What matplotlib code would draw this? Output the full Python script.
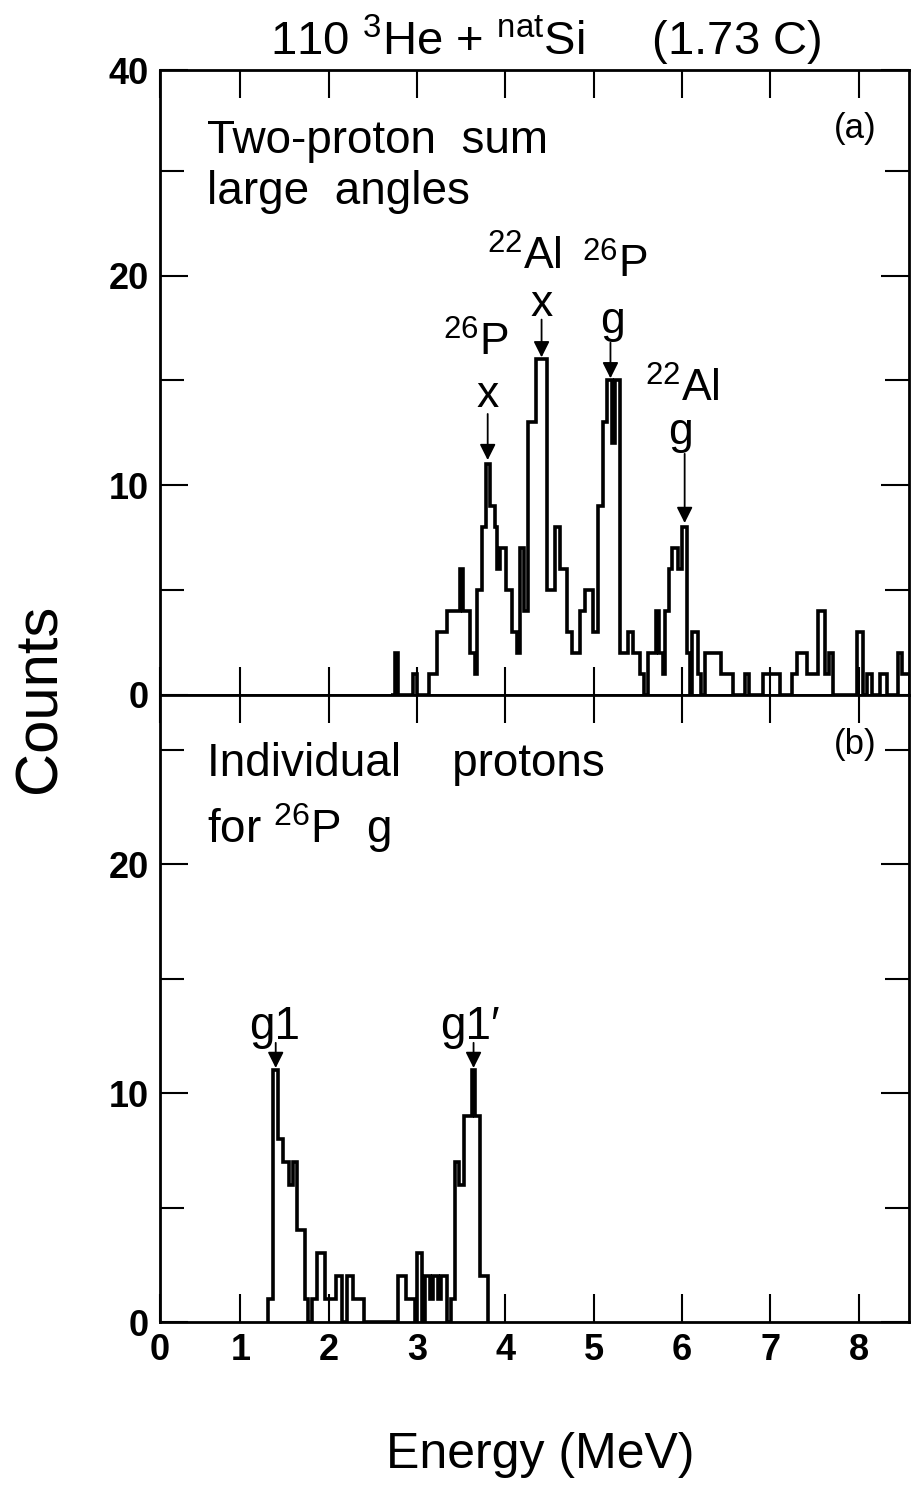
import numpy as np
import matplotlib.pyplot as plt
from matplotlib.ticker import MultipleLocator

plt.rcParams["font.family"] = ["Liberation Sans", "DejaVu Sans"]
plt.rcParams["mathtext.fontset"] = "custom"
plt.rcParams["mathtext.rm"] = "Liberation Sans"
plt.rcParams["mathtext.default"] = "regular"

# (a) two-proton sum energy spectrum, large angles
sum_edges = [2.70, 2.75, 2.79, 2.96, 3.00, 3.14, 3.23, 3.34, 3.49, 3.52,
             3.60, 3.66, 3.68, 3.74, 3.78, 3.83, 3.88, 3.91, 3.94, 4.01,
             4.08, 4.13, 4.17, 4.21, 4.26, 4.35, 4.47, 4.56, 4.62, 4.70,
             4.76, 4.85, 4.90, 4.99, 5.05, 5.10, 5.15, 5.21, 5.24, 5.30,
             5.39, 5.45, 5.53, 5.57, 5.61, 5.70, 5.74, 5.78, 5.81, 5.85,
             5.89, 5.95, 6.00, 6.06, 6.09, 6.11, 6.18, 6.22, 6.26, 6.38,
             6.44, 6.58, 6.71, 6.76, 6.92, 7.11, 7.25, 7.30, 7.42, 7.54,
             7.62, 7.66, 7.71, 7.98, 8.05, 8.10, 8.15, 8.24, 8.32, 8.44,
             8.49, 8.58]
sum_counts = [0, 2, 0, 1, 0, 1, 3, 4, 6, 4, 2, 1, 5, 8, 11, 9, 8, 6, 7, 5,
              3, 2, 7, 4, 13, 16, 5, 8, 6, 3, 2, 4, 5, 3, 9, 13, 15, 12, 15, 2,
              3, 2, 1, 0, 2, 4, 2, 1, 4, 6, 7, 6, 8, 2, 0, 3, 1, 0, 2, 2,
              1, 0, 1, 0, 1, 0, 1, 2, 1, 4, 1, 2, 0, 3, 0, 1, 0, 1, 0, 2, 1]

# (b) individual protons for 26P g
ind_edges = [1.31, 1.37, 1.43, 1.48, 1.55, 1.60, 1.64, 1.73, 1.77, 1.81,
             1.87, 1.96, 2.08, 2.15, 2.21, 2.28, 2.40, 2.79, 2.87, 2.98,
             3.00, 3.06, 3.09, 3.15, 3.18, 3.24, 3.27, 3.34, 3.38, 3.43,
             3.47, 3.53, 3.62, 3.66, 3.71, 3.80]
ind_counts = [1, 11, 8, 7, 6, 7, 4, 1, 0, 1, 3, 1, 2, 0, 2, 1, 0, 2, 1, 0,
              3, 0, 2, 1, 2, 1, 2, 0, 1, 7, 6, 9, 11, 9, 2]

# peak labels: (text lines, text x, text y, arrow x, arrow top, arrow tip)
sum_peaks = [
    (["$^{26}$P", "x"], [3.67, 3.80], [16.8, 14.3], 3.80, 13.4, 11.2),
    (["$^{22}$Al", "x"], [4.22, 4.41], [20.9, 18.6], 4.41, 17.9, 16.1),
    (["$^{26}$P", "g"], [5.24, 5.21], [20.5, 17.8], 5.19, 16.8, 15.1),
    (["$^{22}$Al", "g"], [6.00, 5.98], [14.6, 12.5], 6.03, 11.5, 8.2),
]
ind_peaks = [("g1", 1.39, 12.9, 1.40, 12.2, 11.1),
             ("g1\u2032", 3.60, 12.9, 3.64, 12.2, 11.1)]

xticks = [1, 2, 3, 4, 5, 6, 7, 8]
x_left, x_right = 0.09, 8.57

fig = plt.figure(figsize=(9.12, 14.94), dpi=100)
ax_a = fig.add_axes([160 / 912, 1 - 695 / 1494, 749 / 912, 625 / 1494])
ax_b = fig.add_axes([160 / 912, 1 - 1322 / 1494, 749 / 912, 627 / 1494])

ax_a.stairs(sum_counts, sum_edges, color="black", linewidth=2.6)
ax_b.stairs(ind_counts, ind_edges, color="black", linewidth=2.6)

for ax in (ax_a, ax_b):
    ax.set_xlim(x_left, x_right)
    # the printed "0" sits on the left frame edge
    ax.set_xticks([x_left] + xticks)
    ax.yaxis.set_minor_locator(MultipleLocator(5))
    ax.tick_params(which="both", direction="in", top=True, right=True, width=1.5)
    ax.tick_params(which="major", length=20)
    ax.tick_params(which="minor", length=17)
    for sp in ax.spines.values():
        sp.set_linewidth(2)

ax_a.set_ylim(0, 29.8)
ax_a.set_yticks([0, 10, 20, 29.8])
ax_a.set_yticklabels(["0", "10", "20", "40"], fontsize=26, fontweight="bold")
ax_a.tick_params(axis="x", labelbottom=False)
ax_a.tick_params(axis="y", pad=8)

ax_b.set_ylim(0, 27.4)
ax_b.set_yticks([0, 10, 20])
ax_b.set_yticklabels(["0", "10", "20"], fontsize=26, fontweight="bold")
ax_b.set_xticklabels(["0"] + [str(t) for t in xticks], fontsize=26,
                     fontweight="bold")
ax_b.tick_params(axis="y", pad=8)
ax_b.tick_params(axis="x", pad=8)

# panel texts
ax_a.text(0.62, 26.4, "Two-proton  sum", fontsize=33, va="center")
ax_a.text(0.62, 24.0, "large  angles", fontsize=33, va="center")
ax_a.text(7.96, 27.0, "(a)", fontsize=25, ha="center", va="center")
ax_b.text(0.62, 24.4, "Individual    protons", fontsize=33, va="center")
ax_b.text(0.62, 21.6, "for $^{26}$P  g", fontsize=33, va="center")
ax_b.text(7.96, 25.25, "(b)", fontsize=25, ha="center", va="center")

for labels, tx, ty, axx, top, tip in sum_peaks:
    for lab, x, y in zip(labels, tx, ty):
        ax_a.text(x, y, lab, fontsize=32, ha="center", va="center")
    ax_a.annotate("", xy=(axx, tip), xytext=(axx, top),
                  arrowprops=dict(arrowstyle="-|>", color="black", lw=1.3,
                                  mutation_scale=24, shrinkA=0, shrinkB=0))

for lab, x, y, axx, top, tip in ind_peaks:
    ax_b.text(x, y, lab, fontsize=33, ha="center", va="center")
    ax_b.annotate("", xy=(axx, tip), xytext=(axx, top),
                  arrowprops=dict(arrowstyle="-|>", color="black", lw=1.3,
                                  mutation_scale=24, shrinkA=0, shrinkB=0))

fig.text(546 / 912, 1 - 40 / 1494, "110 $^{3}$He + $^{nat}$Si     (1.73 C)",
         fontsize=34, ha="center", va="center")
fig.text(40 / 912, 1 - 698 / 1494, "Counts", fontsize=43, rotation=90,
         ha="center", va="center")
fig.text(540 / 912, 1 - 1455 / 1494, "Energy (MeV)", fontsize=36,
         ha="center", va="center")

plt.savefig("out.png", dpi=100)
